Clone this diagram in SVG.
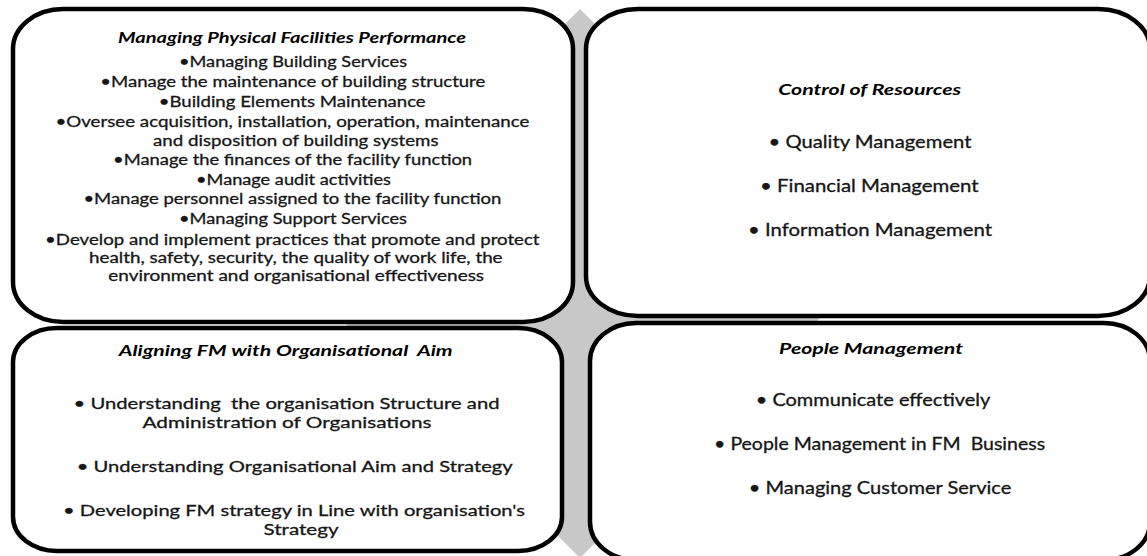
<svg xmlns="http://www.w3.org/2000/svg" width="1147" height="556" viewBox="0 0 1147 556">
  <style>
    .box { fill: #ffffff; stroke: #000000; stroke-width: 4.5; }
    .bg { fill: #c8c8c8; }
    .t { font-family: Lato, "Liberation Sans", sans-serif; font-size: 17px; fill: #161616; stroke: #161616; stroke-width: 0.3; text-anchor: middle; }
    .s { font-size: 15.5px; }
    .m { font-size: 16px; }
    .h { font-weight: bold; font-style: italic; fill: #000000; stroke: none; font-size: 16px; }
  </style>

  <!-- grey diamond behind the four quadrants -->
  <g id="backdrop">
    <polygon class="bg" points="580,9 855,283 580,558 305,283"/>
  </g>

  <!-- top-left quadrant -->
  <g id="node-physical-facilities">
    <rect class="box" x="13" y="9" width="560" height="313" rx="50" ry="40"/>
    <text class="t h" x="292" y="43" textLength="348" lengthAdjust="spacingAndGlyphs">Managing Physical Facilities Performance</text>
    <text class="t s" x="293" y="67" textLength="228" lengthAdjust="spacingAndGlyphs">•Managing Building Services</text>
    <text class="t s" x="292.8" y="87" textLength="385" lengthAdjust="spacingAndGlyphs">•Manage the maintenance of building structure</text>
    <text class="t s" x="292.2" y="107" textLength="267" lengthAdjust="spacingAndGlyphs">•Building Elements Maintenance</text>
    <text class="t s" x="292.4" y="127" textLength="474" lengthAdjust="spacingAndGlyphs">•Oversee acquisition, installation, operation, maintenance</text>
    <text class="t s" x="295.8" y="145.5" textLength="285.5" lengthAdjust="spacingAndGlyphs">and disposition of building systems</text>
    <text class="t s" x="292.6" y="165" textLength="359" lengthAdjust="spacingAndGlyphs">•Manage the finances of the facility function</text>
    <text class="t s" x="293.5" y="185" textLength="195" lengthAdjust="spacingAndGlyphs">•Manage audit activities</text>
    <text class="t s" x="292.4" y="204" textLength="418" lengthAdjust="spacingAndGlyphs">•Manage personnel assigned to the facility function</text>
    <text class="t s" x="293" y="224" textLength="228" lengthAdjust="spacingAndGlyphs">•Managing Support Services</text>
    <text class="t s" x="292.3" y="245" textLength="494.5" lengthAdjust="spacingAndGlyphs">•Develop and implement practices that promote and protect</text>
    <text class="t s" x="295.8" y="263" textLength="413.5" lengthAdjust="spacingAndGlyphs">health, safety, security, the quality of work life, the</text>
    <text class="t s" x="296.2" y="281" textLength="375.7" lengthAdjust="spacingAndGlyphs">environment and organisational effectiveness</text>
  </g>

  <!-- top-right quadrant -->
  <g id="node-control-resources">
    <rect class="box" x="586" y="9" width="564" height="307" rx="52" ry="40"/>
    <text class="t h" x="869.7" y="95" textLength="183" lengthAdjust="spacingAndGlyphs">Control of Resources</text>
    <text class="t" x="870" y="148" textLength="203" lengthAdjust="spacingAndGlyphs">• Quality Management</text>
    <text class="t" x="869.3" y="192" textLength="218.6" lengthAdjust="spacingAndGlyphs">• Financial Management</text>
    <text class="t" x="870" y="236" textLength="244" lengthAdjust="spacingAndGlyphs">• Information Management</text>
  </g>

  <!-- bottom-left quadrant -->
  <g id="node-aligning-fm">
    <rect class="box" x="13" y="328" width="549" height="223" rx="44" ry="34"/>
    <text class="t h" x="285.7" y="356" textLength="334" lengthAdjust="spacingAndGlyphs" xml:space="preserve">Aligning FM with Organisational  Aim</text>
    <text class="t m" x="286.5" y="409" textLength="426" lengthAdjust="spacingAndGlyphs" xml:space="preserve">• Understanding  the organisation Structure and</text>
    <text class="t m" x="287" y="428" textLength="289" lengthAdjust="spacingAndGlyphs">Administration of Organisations</text>
    <text class="t m" x="294.7" y="472" textLength="436" lengthAdjust="spacingAndGlyphs">• Understanding Organisational Aim and Strategy</text>
    <text class="t m" x="294" y="516" textLength="462" lengthAdjust="spacingAndGlyphs">• Developing FM strategy in Line with organisation's</text>
    <text class="t m" x="301" y="535" textLength="75" lengthAdjust="spacingAndGlyphs">Strategy</text>
  </g>

  <!-- bottom-right quadrant -->
  <g id="node-people-management">
    <rect class="box" x="590" y="323" width="560" height="237" rx="46" ry="38"/>
    <text class="t h" x="871" y="354" textLength="184" lengthAdjust="spacingAndGlyphs">People Management</text>
    <text class="t" x="873" y="406" textLength="234.6" lengthAdjust="spacingAndGlyphs">• Communicate effectively</text>
    <text class="t" x="879.6" y="450" textLength="331" lengthAdjust="spacingAndGlyphs" xml:space="preserve">• People Management in FM  Business</text>
    <text class="t" x="880" y="494" textLength="262.5" lengthAdjust="spacingAndGlyphs">• Managing Customer Service</text>
  </g>
</svg>
